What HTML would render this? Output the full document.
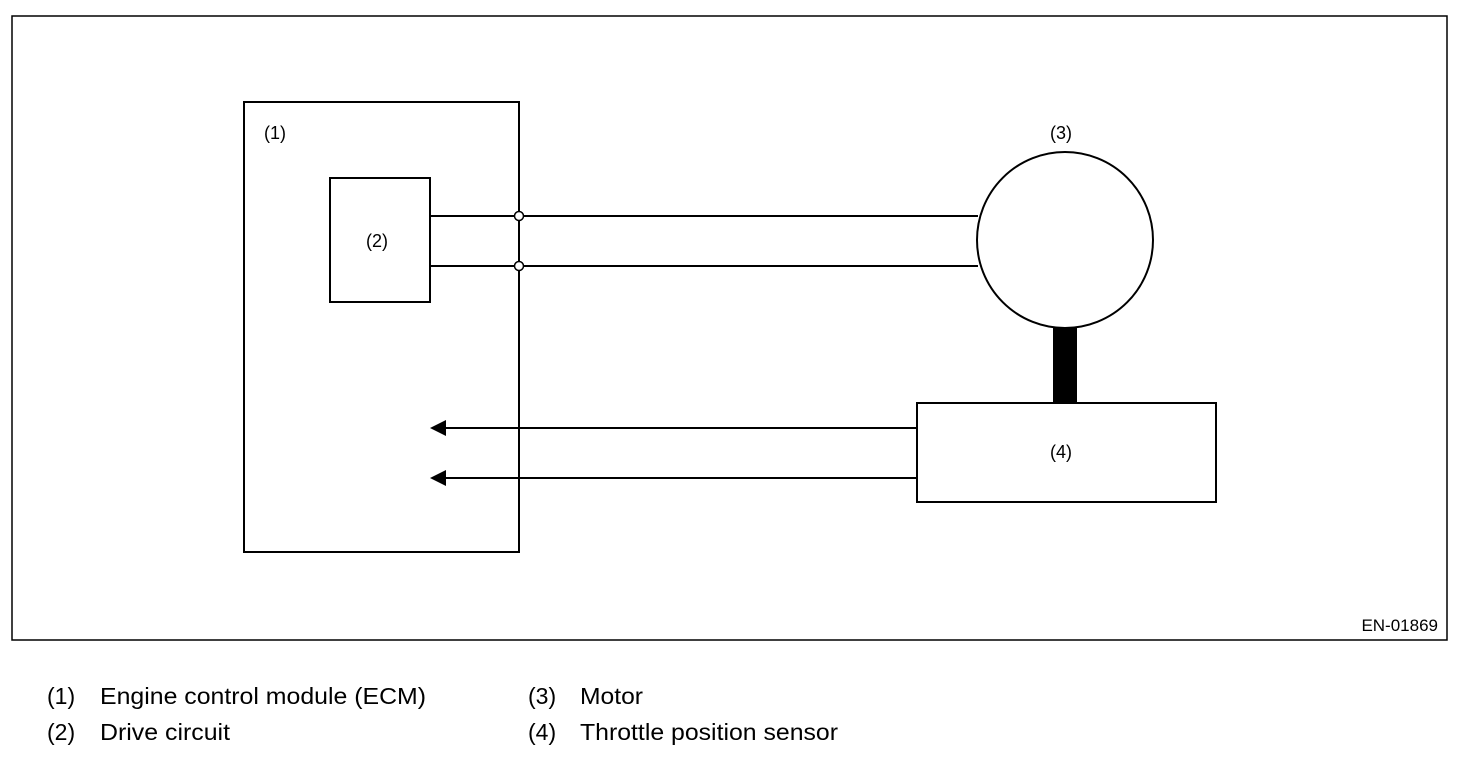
<!DOCTYPE html>
<html><head><style>
html,body{margin:0;padding:0;background:#fff;}
svg text{font-family:"Liberation Sans",Arial,sans-serif;fill:#000;}
</style></head><body>
<svg width="1472" height="758" viewBox="0 0 1472 758" xmlns="http://www.w3.org/2000/svg">
<g fill="none" stroke="#000" stroke-width="2">
<rect x="12" y="16" width="1435" height="624" stroke-width="1.5"/>
<rect x="244" y="102" width="275" height="450"/>
<rect x="330" y="178" width="100" height="124"/>
<line x1="430" y1="216" x2="978" y2="216"/>
<line x1="430" y1="266" x2="978" y2="266"/>
<circle cx="1065" cy="240" r="88"/>
<rect x="917" y="403" width="299" height="99"/>
<line x1="917" y1="428" x2="444" y2="428"/>
<line x1="917" y1="478" x2="444" y2="478"/>
</g>
<rect x="1053" y="327" width="24" height="76" fill="#000"/>
<circle cx="519" cy="216" r="4.5" fill="#fff" stroke="#000" stroke-width="1.5"/>
<circle cx="519" cy="266" r="4.5" fill="#fff" stroke="#000" stroke-width="1.5"/>
<polygon points="430,428 446,420 446,436" fill="#000"/>
<polygon points="430,478 446,470 446,486" fill="#000"/>
<g font-size="18">
<text x="264" y="139">(1)</text>
<text x="366" y="247">(2)</text>
<text x="1050" y="139">(3)</text>
<text x="1050" y="458">(4)</text>
<text x="1438" y="631" text-anchor="end" font-size="17">EN-01869</text>
</g>
<g font-size="23">
<text x="47" y="704">(1)</text>
<text x="100" y="704" textLength="326" lengthAdjust="spacingAndGlyphs">Engine control module (ECM)</text>
<text x="47" y="740">(2)</text>
<text x="100" y="740" textLength="130" lengthAdjust="spacingAndGlyphs">Drive circuit</text>
<text x="528" y="704">(3)</text>
<text x="580" y="704" textLength="63" lengthAdjust="spacingAndGlyphs">Motor</text>
<text x="528" y="740">(4)</text>
<text x="580" y="740" textLength="258" lengthAdjust="spacingAndGlyphs">Throttle position sensor</text>
</g>
</svg>
</body></html>
